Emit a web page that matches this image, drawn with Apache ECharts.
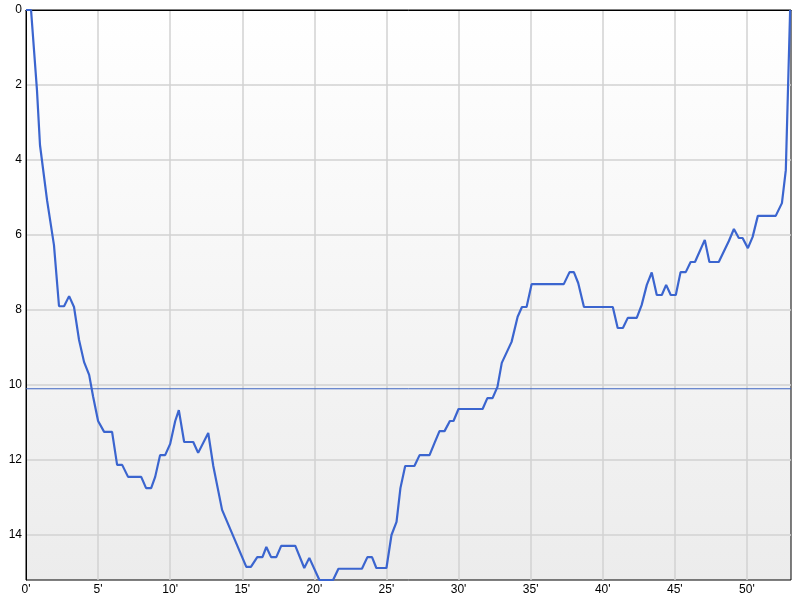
<!DOCTYPE html>
<html>
<head>
<meta charset="utf-8">
<script src="https://cdn.jsdelivr.net/npm/echarts@6/dist/echarts.min.js"></script>
<style>
  html, body { margin: 0; padding: 0; background: #fff; }
  #chart { width: 800px; height: 600px; }
</style>
</head>
<body>
<div id="chart"></div>
<script>
  // minutes elapsed
  const minutes = [
    0, 0.35, 0.76, 0.97, 1.46, 1.94, 2.29, 2.64, 2.99, 3.33, 3.68, 4.03, 4.38, 4.65,
    5.0, 5.42, 5.97, 6.32, 6.67, 7.08, 7.99, 8.33, 8.68, 8.96, 9.3, 9.65, 10.0, 10.35,
    10.6, 10.97, 11.6, 11.94, 12.64, 12.99, 13.6, 15.28, 15.6, 16.04, 16.4, 16.67, 17.0,
    17.36, 17.7, 18.68, 19.3, 19.65, 20.35, 21.3, 21.67, 23.3, 23.68, 24.0, 24.3, 25.0,
    25.35, 25.7, 25.97, 26.3, 26.94, 27.3, 27.99, 28.33, 28.68, 29.03, 29.4, 29.65, 30.0,
    31.67, 32.0, 32.36, 32.7, 33.0, 33.68, 34.1, 34.4, 34.72, 35.07, 37.3, 37.7, 38.0,
    38.3, 38.7, 40.7, 41.04, 41.4, 41.74, 42.36, 42.7, 43.06, 43.4, 43.75, 44.1, 44.4,
    44.72, 45.07, 45.4, 45.76, 46.1, 46.4, 47.08, 47.4, 48.05, 48.75, 49.1, 49.44, 49.7,
    50.07, 50.4, 50.76, 52.0, 52.43, 52.7, 53.0
  ]
  // depth values
  const depth = [
    0, 0, 2.13, 3.6, 5.07, 6.27, 7.9, 7.9, 7.63, 7.92, 8.8, 9.39, 9.73, 10.3,
    10.96, 11.25, 11.25, 12.13, 12.13, 12.45, 12.45, 12.75, 12.75, 12.45, 11.87, 11.87, 11.57, 10.96,
    10.67, 11.52, 11.52, 11.81, 11.28, 12.16, 13.33, 14.85, 14.85, 14.59, 14.59, 14.32, 14.59,
    14.59, 14.29, 14.29, 14.88, 14.61, 15.2, 15.2, 14.9, 14.9, 14.59, 14.59, 14.88, 14.88,
    14.0, 13.65, 12.75, 12.16, 12.16, 11.87, 11.87, 11.55, 11.23, 11.23, 10.96, 10.96, 10.64,
    10.64, 10.35, 10.35, 10.05, 9.41, 8.85, 8.18, 7.92, 7.92, 7.31, 7.31, 6.99, 6.99,
    7.28, 7.92, 7.92, 8.48, 8.48, 8.21, 8.21, 7.87, 7.33, 7.0, 7.6, 7.6, 7.33,
    7.6, 7.6, 6.99, 6.99, 6.72, 6.72, 6.13, 6.72, 6.72, 6.16, 5.84, 6.08, 6.08,
    6.35, 6.05, 5.49, 5.49, 5.15, 4.27, 0
  ]
  const refDepth = 10.1
  const xMax = 53.06
  const yMax = 15.2

  const chart = echarts.init(document.getElementById('chart'))
  chart.setOption({
    animation: false,
    grid: {
      left: 26,
      right: 9,
      top: 10,
      bottom: 20,
      show: true,
      borderColor: '#000',
      borderWidth: 1,
      backgroundColor: new echarts.graphic.LinearGradient(0, 0, 0, 1, [
        { offset: 0, color: '#ffffff' },
        { offset: 1, color: '#ececec' }
      ])
    },
    xAxis: {
      type: 'value',
      min: 0,
      max: xMax,
      interval: 5,
      axisLine: { show: true, lineStyle: { color: '#000', width: 1 } },
      axisTick: { show: false },
      splitLine: {
        showMinLine: false,
        showMaxLine: false,
        lineStyle: { color: '#d2d2d2', width: 1.5 }
      },
      axisLabel: {
        color: '#000',
        fontFamily: 'Liberation Sans',
        fontSize: 12,
        margin: 4,
        showMaxLabel: false,
        formatter: v => v + "'"
      }
    },
    yAxis: {
      type: 'value',
      inverse: true,
      min: 0,
      max: yMax,
      interval: 2,
      axisLine: { show: true, lineStyle: { color: '#000', width: 1 } },
      axisTick: { show: false },
      splitLine: {
        showMinLine: false,
        showMaxLine: false,
        lineStyle: { color: '#d2d2d2', width: 1.5 }
      },
      axisLabel: {
        color: '#000',
        fontFamily: 'Liberation Sans',
        fontSize: 12,
        margin: 4,
        showMaxLabel: false
      }
    },
    series: [
      {
        type: 'line',
        data: [[0, refDepth], [xMax, refDepth]],
        showSymbol: false,
        symbol: 'none',
        silent: true,
        lineStyle: { color: '#3f66c2', width: 1 }
      },
      {
        type: 'line',
        data: minutes.map((m, i) => [m, depth[i]]),
        showSymbol: false,
        symbol: 'none',
        lineStyle: { color: '#3b65cf', width: 2.2 }
      }
    ]
  })
</script>
</body>
</html>
